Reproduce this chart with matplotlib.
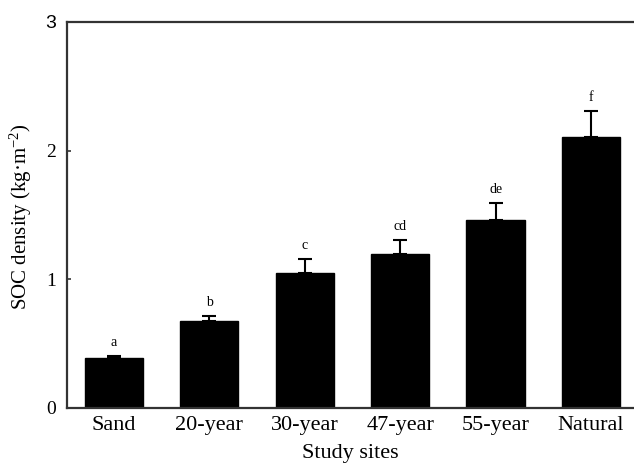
import matplotlib
matplotlib.use('Agg')
import matplotlib.pyplot as plt
import numpy as np

plt.rcParams['font.family'] = ['Liberation Serif', 'DejaVu Serif']
plt.rcParams['mathtext.fontset'] = 'custom'
plt.rcParams['mathtext.rm'] = 'Liberation Serif'
plt.rcParams['mathtext.it'] = 'Liberation Serif:italic'

# data
sites = ['Sand', '20-year', '30-year', '47-year', '55-year', 'Natural']
soc_density = [0.39, 0.68, 1.05, 1.20, 1.46, 2.11]
soc_se = [0.015, 0.035, 0.11, 0.105, 0.13, 0.20]
sig_letters = ['a', 'b', 'c', 'cd', 'de', 'f']
y_ticks = [0, 1, 2, 3]

fig = plt.figure(figsize=(6.34, 4.71), dpi=100)
ax = fig.add_axes([67 / 634, 63 / 471, 1 - 67 / 634, (408 - 22) / 471])

x = np.arange(len(sites))
ax.bar(x, soc_density, width=0.61, color='black', edgecolor='black', zorder=2)
ax.errorbar(x, soc_density, yerr=[np.zeros(len(sites)), soc_se],
            fmt='none', ecolor='black', elinewidth=1.5, capsize=5,
            capthick=1.5, zorder=3)

for xi, val, err, lab in zip(x, soc_density, soc_se, sig_letters):
    ax.annotate(lab, xy=(xi, val + err), xytext=(0, 5),
                textcoords='offset points', ha='center', va='bottom',
                fontsize=10)

ax.set_xlim(-0.49, 5.45)
ax.set_ylim(0, 3)
ax.set_xticks(x)
ax.set_xticklabels(sites, fontsize=16)
ax.set_yticks(y_ticks)
ax.set_yticklabels([str(t) for t in y_ticks], fontsize=14)
# the top label is set in a sans face in the original
ax.get_yticklabels()[-1].set_family('Liberation Sans')
ax.tick_params(axis='x', length=0, pad=6)
ax.tick_params(axis='y', direction='in', length=3, width=1.2, pad=8,
               color='#333333')

for side in ['left', 'bottom', 'top']:
    ax.spines[side].set_linewidth(1.6)
    ax.spines[side].set_color('#333333')
ax.spines['right'].set_visible(False)

ax.set_xlabel('Study sites', fontsize=16, labelpad=6)
ax.set_ylabel('SOC density (kg\u00b7m$^{-2}$)', fontsize=15)
ax.yaxis.set_label_coords(-0.058, 0.495)

fig.savefig('out.png', dpi=100)
